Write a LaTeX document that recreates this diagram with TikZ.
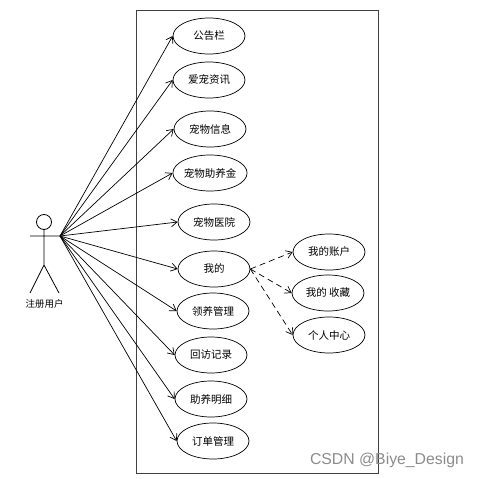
\documentclass[tikz,border=0pt]{standalone}
\usepackage{fontspec}
\setmainfont{Noto Sans CJK SC}
\newfontfamily\markfont{Liberation Sans}
\usetikzlibrary{shapes.geometric,arrows.meta}
\tikzset{
  usecase/.style={draw,ellipse,minimum width=72pt,minimum height=36pt,inner sep=0pt,font=\fontsize{10.5}{12}\selectfont},
  assoc/.style={-{Straight Barb[length=6pt,width=8pt]},line width=0.7pt},
  extend/.style={assoc,dash pattern=on 6pt off 4pt},
  limb/.style={line width=0.8pt}
}
\begin{document}
\begin{tikzpicture}[x=1pt,y=-1pt,line width=0.7pt]
\useasboundingbox (0,0) rectangle (478,479);
\draw[line width=1pt,black!75] (136,10) rectangle (378,473);
% actor
\node[draw,circle,minimum size=15pt,inner sep=0pt,limb] (head) at (44,222) {};
\coordinate (armL) at (30,236);
\coordinate (hub) at (60,236);
\coordinate (hip) at (44,265);
\coordinate (footL) at (30,293);
\coordinate (footR) at (59,293);
\draw[limb] (head) -- (hip) (armL) -- (hub) (footL) -- (hip) -- (footR);
\node[font=\fontsize{9.5}{11}\selectfont] (actorlabel) at (44.5,304) {注册用户};
% use cases
\node[usecase] (notice) at (209,36) {公告栏};
\node[usecase] (news) at (209,80) {爱宠资讯};
\node[usecase] (petinfo) at (210,129) {宠物信息};
\node[usecase] (fund) at (210,173) {宠物助养金};
\node[usecase] (hospital) at (214,222) {宠物医院};
\node[usecase] (mine) at (214,269) {我的};
\node[usecase] (adopt) at (213,311) {领养管理};
\node[usecase] (visit) at (211,355) {回访记录};
\node[usecase] (detail) at (211,399) {助养明细};
\node[usecase] (order) at (213,441) {订单管理};
\node[usecase] (account) at (329,252) {我的账户};
\node[usecase] (favor) at (328,293) {我的 收藏};
\node[usecase] (center) at (329,335) {个人中心};
\foreach \n in {notice,news,petinfo,fund,hospital,mine,adopt,visit,detail,order}
  \draw[assoc] (hub) -- (\n.west);
\foreach \n in {account,favor,center}
  \draw[extend] (mine.east) -- (\n.west);
\node[font=\markfont\fontsize{15.8}{18}\selectfont,text=black!45] (mark) at (387,460) {CSDN @Biye\_Design};
\end{tikzpicture}
\end{document}
